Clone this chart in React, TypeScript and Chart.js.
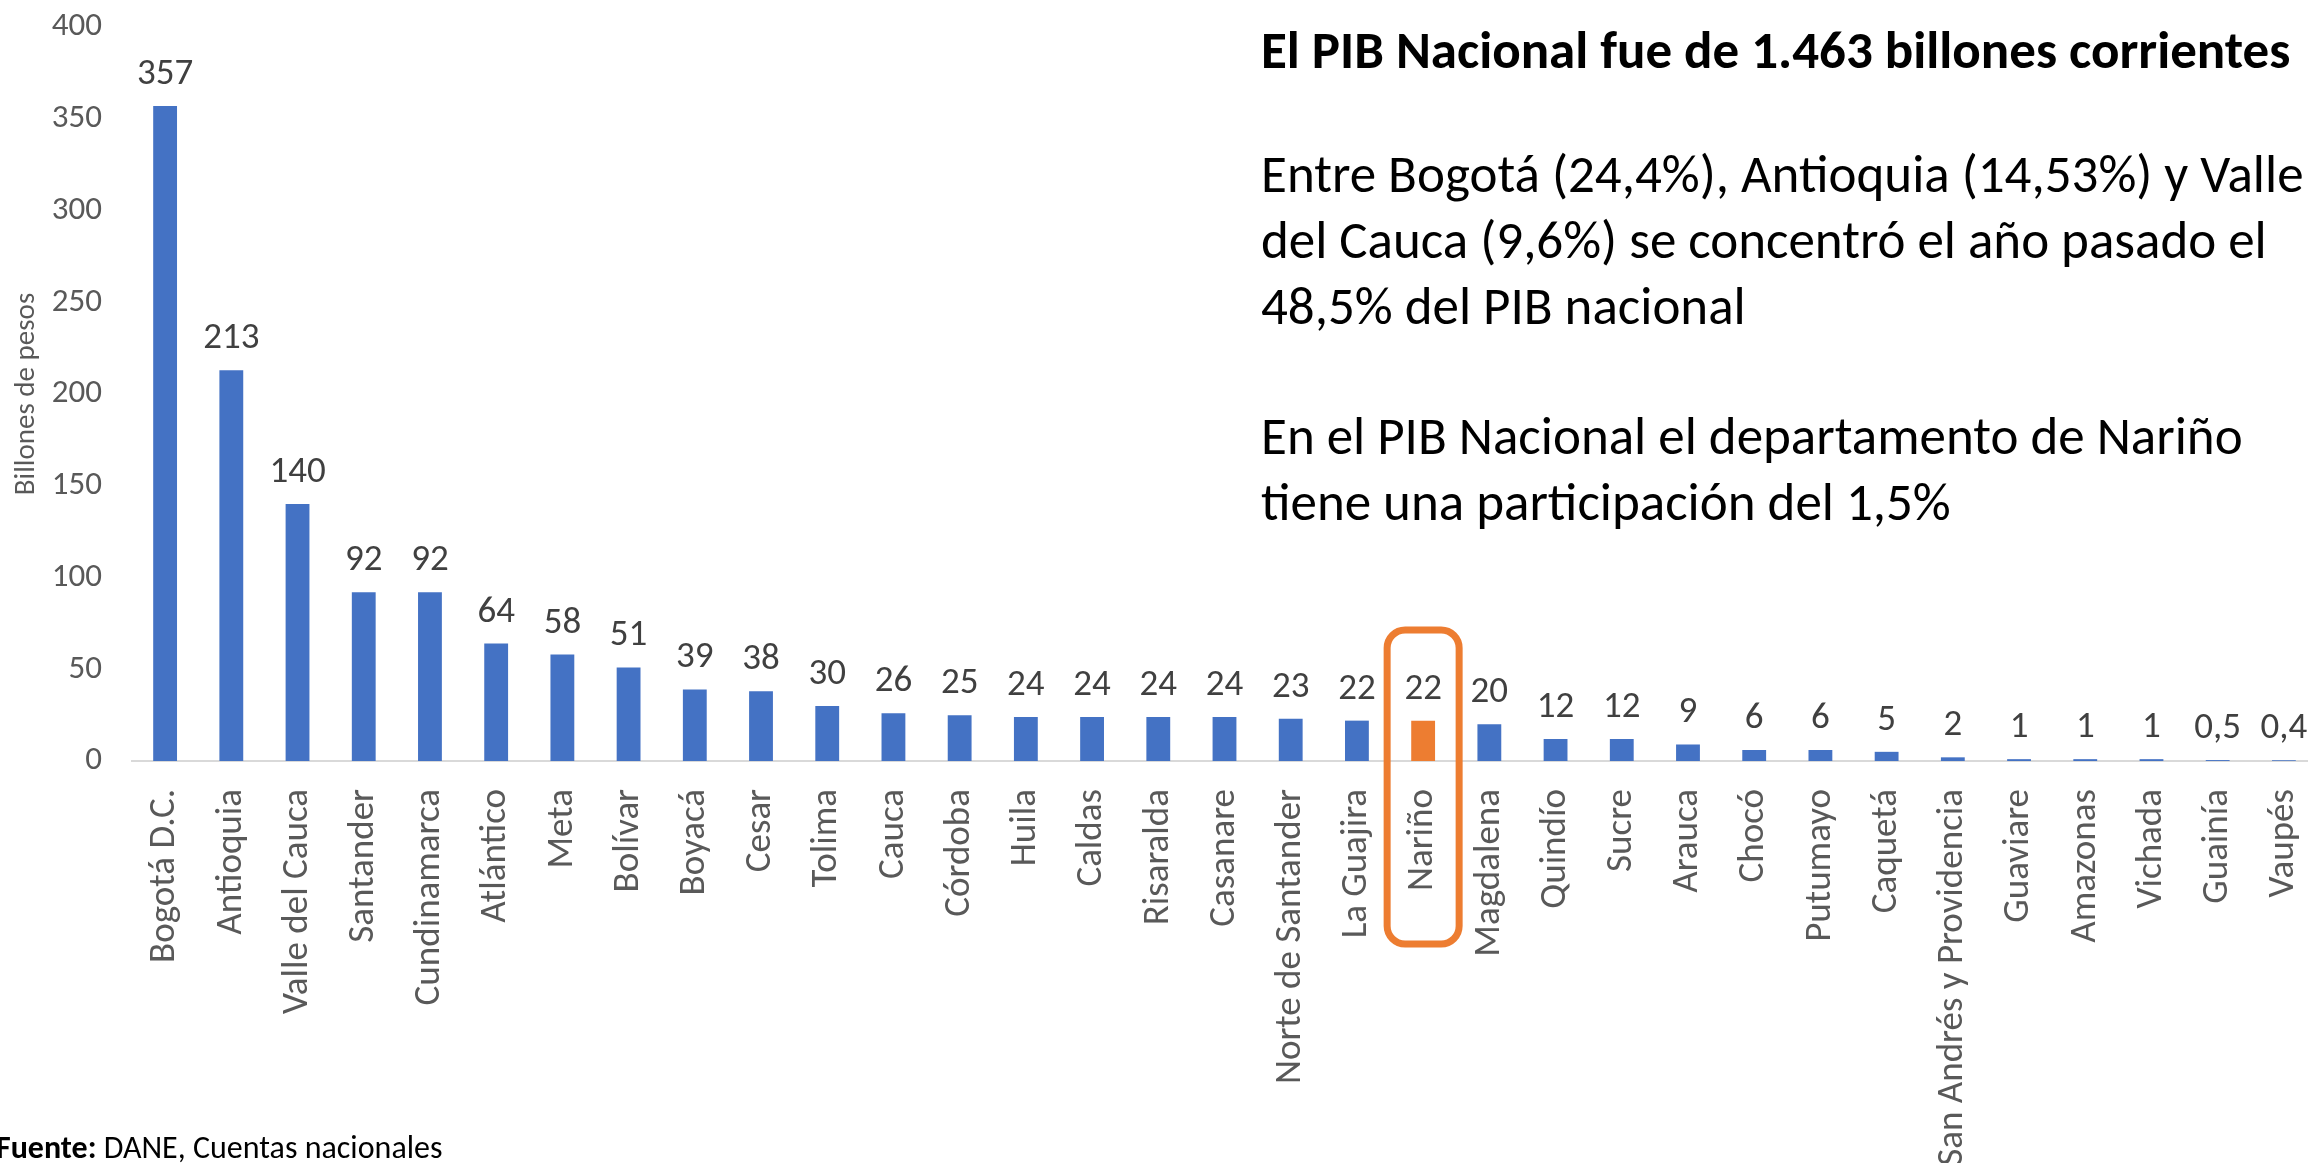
import React, { useEffect, useRef } from "react";
import { Chart, registerables } from "chart.js";

Chart.register(...registerables);

const categories = [
  "Bogotá D.C.", "Antioquia", "Valle del Cauca", "Santander", "Cundinamarca",
  "Atlántico", "Meta", "Bolívar", "Boyacá", "Cesar", "Tolima", "Cauca",
  "Córdoba", "Huila", "Caldas", "Risaralda", "Casanare", "Norte de Santander",
  "La Guajira", "Nariño", "Magdalena", "Quindío", "Sucre", "Arauca", "Chocó",
  "Putumayo", "Caquetá", "San Andrés y Providencia", "Guaviare", "Amazonas",
  "Vichada", "Guainía", "Vaupés",
];
const values = [
  357, 213, 140, 92, 92, 64, 58, 51, 39, 38, 30, 26, 25, 24, 24, 24, 24, 23,
  22, 22, 20, 12, 12, 9, 6, 6, 5, 2, 1, 1, 1, 0.5, 0.4,
];
const highlighted = "Nariño";
const yAxisTitle = "Billones de pesos";
const yMin = 0;
const yMax = 400;
const yStep = 50;

const titleText = "El PIB Nacional fue de 1.463 billones corrientes";
const paragraph1 = [
  "Entre Bogotá (24,4%), Antioquia (14,53%) y Valle",
  "del Cauca (9,6%) se concentró el año pasado el",
  "48,5% del PIB nacional",
];
const paragraph2 = [
  "En el PIB Nacional el departamento de Nariño",
  "tiene una participación del 1,5%",
];

const BLUE = "#4472C4";
const ORANGE = "#ED7D31";
const FONT = "Carlito, Lato, sans-serif";

const fmt = (v: number) => String(v).replace(".", ",");

const valueLabelPlugin = {
  id: "valueLabels",
  afterDatasetsDraw(chart: any) {
    const { ctx } = chart;
    const meta = chart.getDatasetMeta(0);
    ctx.save();
    ctx.font = `37px ${FONT}`;
    ctx.fillStyle = "#404040";
    ctx.textAlign = "center";
    ctx.textBaseline = "alphabetic";
    meta.data.forEach((bar: any, i: number) => {
      ctx.fillText(fmt(values[i]), bar.x, bar.y - 22);
    });
    ctx.restore();
  },
};

const highlightBoxPlugin = {
  id: "highlightBox",
  afterDraw(chart: any) {
    const idx = categories.indexOf(highlighted);
    if (idx < 0) return;
    const { ctx } = chart;
    const xs = chart.scales.x;
    const ys = chart.scales.y;
    const cx = xs.getPixelForValue(idx);
    const axisY = ys.getPixelForValue(0);
    const w = 72;
    const top = axisY - 131;
    const bottom = axisY + 183;
    const r = 18;
    const left = cx - w / 2;
    ctx.save();
    ctx.strokeStyle = ORANGE;
    ctx.lineWidth = 7;
    ctx.beginPath();
    ctx.roundRect(left, top, w, bottom - top, r);
    ctx.stroke();
    ctx.restore();
  },
};

export default function App() {
  const canvasRef = useRef<HTMLCanvasElement | null>(null);

  useEffect(() => {
    if (!canvasRef.current) return;
    const chart = new Chart(canvasRef.current, {
      type: "bar",
      data: {
        labels: categories,
        datasets: [
          {
            data: values,
            backgroundColor: categories.map((c) => (c === highlighted ? ORANGE : BLUE)),
            barPercentage: 0.36,
            categoryPercentage: 1,
          },
        ],
      },
      options: {
        responsive: false,
        animation: false,
        layout: { padding: { top: 27, right: 23, left: 9, bottom: 0 } },
        plugins: {
          legend: { display: false },
          tooltip: { enabled: false },
        },
        scales: {
          x: {
            grid: { display: false, drawTicks: false },
            border: { display: true, color: "#D9D9D9", width: 2 },
            ticks: {
              autoSkip: false,
              maxRotation: 90,
              minRotation: 90,
              padding: 28,
              color: "#595959",
              font: { family: FONT, size: 37 },
            },
            afterFit: (scale: any) => {
              scale.height = 402;
              scale.paddingLeft = 0;
              scale.paddingRight = 0;
            },
          },
          y: {
            min: yMin,
            max: yMax,
            grid: { display: false, drawTicks: false },
            border: { display: false },
            ticks: {
              stepSize: yStep,
              padding: 30,
              color: "#595959",
              font: { family: FONT, size: 33 },
            },
            title: {
              display: true,
              text: yAxisTitle,
              color: "#595959",
              font: { family: FONT, size: 29 },
              padding: 0,
            },
            afterFit: (scale: any) => {
              scale.width = 123;
              scale.paddingTop = 0;
              scale.paddingBottom = 0;
            },
          },
        },
      },
      plugins: [valueLabelPlugin, highlightBoxPlugin],
    });
    return () => chart.destroy();
  }, []);

  const textBase: React.CSSProperties = {
    position: "absolute",
    left: 1261,
    whiteSpace: "nowrap",
    fontFamily: FONT,
    color: "#000",
  };

  return (
    <div
      style={{
        position: "fixed",
        left: 0,
        top: 0,
        width: 2308,
        height: 1163,
        overflow: "hidden",
        background: "#fff",
      }}
    >
      <canvas ref={canvasRef} width={2340} height={1163} style={{ position: "absolute", left: 0, top: 0 }} />
      <div style={{ ...textBase, top: 53 - 36, fontSize: 53, fontWeight: 700, lineHeight: "66px" }}>
        {titleText}
      </div>
      <div style={{ ...textBase, top: 177 - 36, fontSize: 53, lineHeight: "66px" }}>
        {paragraph1.map((l, i) => (
          <div key={i}>{l}</div>
        ))}
      </div>
      <div style={{ ...textBase, top: 439 - 36, fontSize: 53, lineHeight: "66px" }}>
        {paragraph2.map((l, i) => (
          <div key={i}>{l}</div>
        ))}
      </div>
      <div
        style={{
          position: "absolute",
          left: -4,
          top: 1148 - 19,
          fontFamily: FONT,
          fontSize: 32,
          lineHeight: "38px",
          color: "#000",
          whiteSpace: "nowrap",
        }}
      >
        <b>Fuente:</b> DANE, Cuentas nacionales
      </div>
    </div>
  );
}
